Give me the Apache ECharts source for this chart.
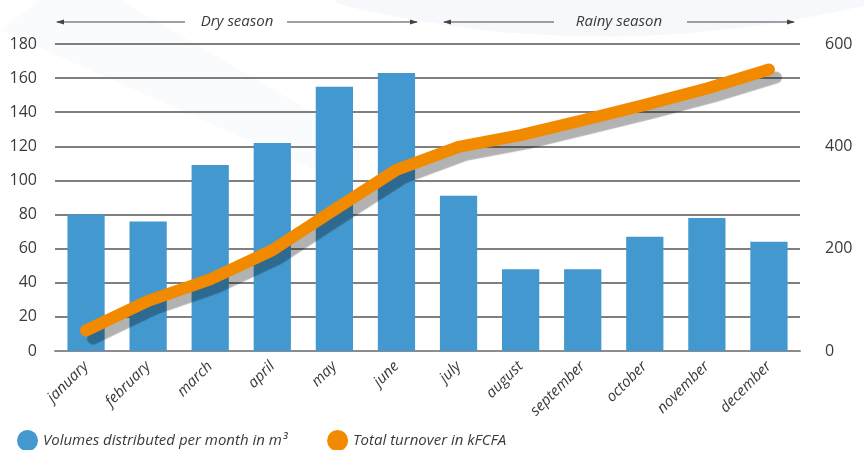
<!DOCTYPE html>
<html>
<head>
<meta charset="utf-8">
<script src="https://cdn.jsdelivr.net/npm/echarts@6/dist/echarts.min.js"></script>
<style>
html,body{margin:0;padding:0;background:#fff;}
#chart{width:864px;height:450px;}
</style>
</head>
<body>
<div id="chart"></div>
<script>
const months = ['january','february','march','april','may','june','july','august','september','october','november','december'];
const volumes = [80, 76, 109, 122, 155, 163, 91, 48, 48, 67, 78, 64];
const turnover = [40, 98, 140, 197, 276, 354, 399, 422, 451, 481, 513, 550];
const leftTicks = [0, 180, 20];
const rightTicks = [0, 600, 200];
const volName = 'Volumes distributed per month in m³';
const turnName = 'Total turnover in kFCFA';

const FONT = '"Open Sans", "Noto Sans", sans-serif';
const TXT = '#3a3a3a';
const chart = echarts.init(document.getElementById('chart'), null, {renderer:'canvas'});

function arrow(x1, x2, y, headAtStart, headAtEnd) {
  const els = [{type:'line', shape:{x1:x1, y1:y, x2:x2, y2:y}, style:{stroke:'#444', lineWidth:1}}];
  if (headAtStart) els.push({type:'polygon', shape:{points:[[x1-1,y],[x1+7,y-2.5],[x1+7,y+2.5]]}, style:{fill:'#444'}});
  if (headAtEnd) els.push({type:'polygon', shape:{points:[[x2+1,y],[x2-7,y-2.5],[x2-7,y+2.5]]}, style:{fill:'#444'}});
  return els;
}

const graphics = [
  {type:'polygon', silent:true, z:-10, shape:{points:[[340,0],[440,24],[580,36],[720,30],[864,6],[864,0]], smooth:0.4}, style:{fill:'#f6f8fc'}},
  {type:'polygon', silent:true, z:-10, shape:{points:[[0,30],[40,0],[120,0],[360,140],[360,190]]}, style:{fill:'#fafbfd'}},
  ...arrow(57, 185, 22, true, false),
  ...arrow(287, 417, 22, false, true),
  ...arrow(444, 554, 22, true, false),
  ...arrow(687, 794, 22, false, true),
  {type:'text', x:237, y:22, style:{text:'Dry season', font:'italic 15px ' + FONT, fill:TXT, textAlign:'center', textVerticalAlign:'middle'}},
  {type:'text', x:619, y:22, style:{text:'Rainy season', font:'italic 15px ' + FONT, fill:TXT, textAlign:'center', textVerticalAlign:'middle'}}
];

chart.setOption({
  animation:false,
  textStyle:{fontFamily:FONT},
  graphic: graphics,
  grid:{left:55, right:64, top:44, bottom:99, containLabel:false},
  legend:{
    left:12, top:425, itemGap:40, itemWidth:21, itemHeight:21, icon:'circle',
    textStyle:{fontFamily:FONT, fontStyle:'italic', fontSize:15, color:TXT},
    data:[{name:volName, itemStyle:{color:'#4399cf'}}, {name:turnName, itemStyle:{color:'#f28a00'}}]
  },
  xAxis:{
    type:'category', data:months,
    axisLine:{lineStyle:{color:'#8c8c8c', width:2}},
    axisTick:{show:false},
    axisLabel:{rotate:45, fontStyle:'italic', fontSize:15, color:TXT, margin:13, interval:0}
  },
  yAxis:[
    {type:'value', min:leftTicks[0], max:leftTicks[1], interval:leftTicks[2],
     axisLine:{show:false}, axisTick:{show:false},
     axisLabel:{fontSize:16, color:TXT, margin:18},
     splitLine:{lineStyle:{color:'#555', width:1.5}}},
    {type:'value', min:rightTicks[0], max:rightTicks[1], interval:rightTicks[2],
     axisLine:{show:false}, axisTick:{show:false},
     axisLabel:{fontSize:16, color:TXT, margin:25},
     splitLine:{show:false}}
  ],
  series:[
    {name:volName, type:'bar', data:volumes, barWidth:'60%', itemStyle:{color:'#4399cf'}, z:2},
    {name:turnName, type:'line', yAxisIndex:1, data:turnover, symbol:'none', smooth:false, z:5,
     lineStyle:{color:'#f28a00', width:12, cap:'round', join:'round',
       shadowColor:'rgba(0,0,0,0.3)', shadowBlur:1, shadowOffsetX:7, shadowOffsetY:8}}
  ]
});
</script>
</body>
</html>
